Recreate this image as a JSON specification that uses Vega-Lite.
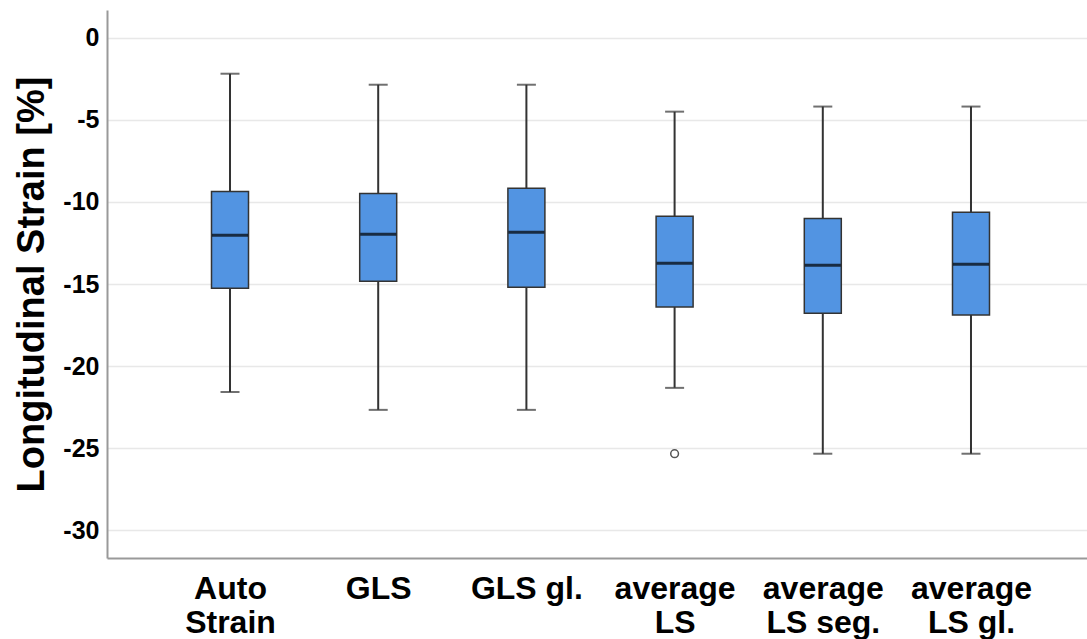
{
  "$schema": "https://vega.github.io/schema/vega-lite/v6.json",
  "width": 987,
  "height": 548,
  "autosize": {"type": "none"},
  "padding": {"left": 107, "top": 10, "right": 0, "bottom": 81},
  "background": "white",
  "config": {"view": {"stroke": null}, "font": "Liberation Sans"},
  "data": {
    "values": [
      {"group": "Auto Strain", "lo": -21.57, "q1": -15.25, "median": -12.03, "q3": -9.36, "hi": -2.19},
      {"group": "GLS", "lo": -22.66, "q1": -14.82, "median": -11.97, "q3": -9.48, "hi": -2.86},
      {"group": "GLS gl.", "lo": -22.66, "q1": -15.19, "median": -11.85, "q3": -9.17, "hi": -2.86},
      {"group": "average LS", "lo": -21.32, "q1": -16.4, "median": -13.73, "q3": -10.87, "hi": -4.5, "outlier": -25.33},
      {"group": "average LS seg.", "lo": -25.33, "q1": -16.77, "median": -13.85, "q3": -11.0, "hi": -4.19},
      {"group": "average LS gl.", "lo": -25.33, "q1": -16.89, "median": -13.79, "q3": -10.63, "hi": -4.19}
    ]
  },
  "encoding": {
    "x": {
      "field": "group",
      "type": "nominal",
      "sort": null,
      "scale": {"type": "point", "padding": 0.83},
      "axis": {
        "title": null,
        "labelAngle": 0,
        "labelFontSize": 32,
        "labelFontWeight": "bold",
        "labelColor": "black",
        "labelLineHeight": 34,
        "labelPadding": 15,
        "labelBaseline": "top",
        "ticks": false,
        "grid": false,
        "domainColor": "#999999",
        "domainWidth": 2,
        "labelExpr": "datum.value == 'Auto Strain' ? ['Auto', 'Strain'] : indexof(datum.value, 'average ') == 0 ? ['average', substring(datum.value, 8)] : datum.value"
      }
    }
  },
  "layer": [
    {
      "mark": {"type": "rule", "color": "#333333", "strokeWidth": 2},
      "encoding": {
        "y": {
          "field": "lo",
          "type": "quantitative",
          "scale": {"domain": [-31.68, 1.69], "nice": false, "zero": false},
          "axis": {
            "values": [0, -5, -10, -15, -20, -25, -30],
            "labelExpr": "datum.value == 0 ? '0' : '-' + abs(datum.value)",
            "title": "Longitudinal Strain [%]",
            "titleFontSize": 38,
            "titleFontWeight": "bold",
            "titleColor": "black",
            "titlePadding": 11,
            "labelFontSize": 25,
            "labelFontWeight": "bold",
            "labelColor": "black",
            "labelPadding": 8,
            "ticks": false,
            "grid": true,
            "gridColor": "#e8e8e8",
            "gridWidth": 1.5,
            "domainColor": "#999999",
            "domainWidth": 2
          }
        },
        "y2": {"field": "hi"}
      }
    },
    {
      "mark": {"type": "tick", "color": "#333333", "size": 19, "thickness": 2},
      "encoding": {"y": {"field": "lo", "type": "quantitative"}}
    },
    {
      "mark": {"type": "tick", "color": "#333333", "size": 19, "thickness": 2},
      "encoding": {"y": {"field": "hi", "type": "quantitative"}}
    },
    {
      "mark": {"type": "bar", "size": 37, "fill": "#5294e2", "stroke": "#333333", "strokeWidth": 1.5},
      "encoding": {"y": {"field": "q1", "type": "quantitative"}, "y2": {"field": "q3"}}
    },
    {
      "mark": {"type": "tick", "color": "black", "size": 36, "thickness": 3},
      "encoding": {"y": {"field": "median", "type": "quantitative"}}
    },
    {
      "mark": {"type": "point", "shape": "circle", "size": 60, "filled": false, "stroke": "#555555", "strokeWidth": 1.5, "opacity": 1},
      "encoding": {"y": {"field": "outlier", "type": "quantitative"}}
    }
  ]
}
